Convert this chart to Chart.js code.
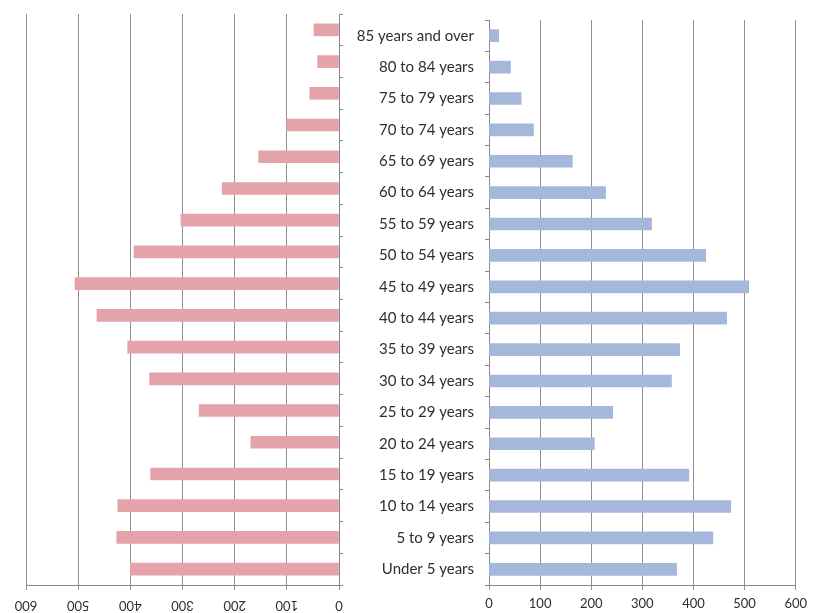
<!DOCTYPE html>
<html>
<head>
<meta charset="utf-8">
<script src="https://cdn.jsdelivr.net/npm/chart.js@4/dist/chart.umd.min.js"></script>
<style>
  html, body { margin: 0; padding: 0; background: #fff; }
  #wrap { position: relative; width: 813px; height: 613px; overflow: hidden; }
  #leftBox { position: absolute; left: 0; top: 0; width: 360px; height: 613px; }
  #rightBox { position: absolute; left: 345px; top: 0; width: 468px; height: 613px; }
</style>
</head>
<body>
<div id="wrap">
  <div id="leftBox"><canvas id="leftChart"></canvas></div>
  <div id="rightBox"><canvas id="rightChart"></canvas></div>
</div>
<script>
// Age groups, oldest at the top
const ageGroups = [
  '85 years and over', '80 to 84 years', '75 to 79 years', '70 to 74 years',
  '65 to 69 years', '60 to 64 years', '55 to 59 years', '50 to 54 years',
  '45 to 49 years', '40 to 44 years', '35 to 39 years', '30 to 34 years',
  '25 to 29 years', '20 to 24 years', '15 to 19 years', '10 to 14 years',
  '5 to 9 years', 'Under 5 years'
];
// Left half of the pyramid
const leftValues = [48, 41, 56, 100, 154, 224, 303, 393, 506, 464, 405, 363, 268, 169, 361, 424, 426, 400];
// Right half of the pyramid
const rightValues = [19, 42, 63, 87, 163, 228, 318, 424, 508, 465, 373, 357, 242, 206, 391, 473, 438, 367];
// Value axis ticks shared by both halves
const axisTicks = [0, 100, 200, 300, 400, 500, 600];

const FONT = 'Lato, "Open Sans", sans-serif';
const TEXT = '#2e2e2e';
const GRID = '#909090';
const AXIS = '#888888';

Chart.defaults.animation = false;
Chart.defaults.responsive = true;
Chart.defaults.maintainAspectRatio = false;

// Draws the left value-axis labels turned upside down
const flippedTicks = {
  id: 'flippedTicks',
  afterDraw(chart) {
    const sc = chart.scales.x;
    const ctx = chart.ctx;
    ctx.save();
    ctx.font = '13px ' + FONT;
    ctx.fillStyle = TEXT;
    ctx.textAlign = 'center';
    ctx.textBaseline = 'middle';
    const y = sc.top + 20;
    sc.ticks.forEach(t => {
      const x = sc.getPixelForValue(t.value);
      ctx.save();
      ctx.translate(x, y);
      ctx.rotate(Math.PI);
      ctx.fillText(String(t.value), 0, 0);
      ctx.restore();
    });
    ctx.restore();
  }
};

new Chart(document.getElementById('leftChart'), {
  type: 'bar',
  data: {
    labels: ageGroups,
    datasets: [{
      data: leftValues,
      backgroundColor: '#e3a3a8',
      barThickness: 12
    }]
  },
  options: {
    indexAxis: 'y',
    layout: { padding: { left: 26, right: 0, top: 14, bottom: 0 } },
    plugins: { legend: { display: false }, tooltip: { enabled: false } },
    scales: {
      x: {
        reverse: true,
        min: 0, max: 600,
        afterBuildTicks(scale) { scale.ticks = axisTicks.map(v => ({ value: v })); },
        afterFit(scale) { scale.height = 28; },
        ticks: { display: false },
        grid: { color: GRID, lineWidth: 1, tickLength: 5, drawTicks: true },
        border: { color: AXIS }
      },
      y: {
        position: 'right',
        afterFit(scale) { scale.width = 21; },
        ticks: { display: false },
        grid: { drawOnChartArea: false, drawTicks: true, tickLength: 4, color: AXIS, offset: true },
        border: { color: AXIS }
      }
    }
  },
  plugins: [flippedTicks]
});

new Chart(document.getElementById('rightChart'), {
  type: 'bar',
  data: {
    labels: ageGroups,
    datasets: [{
      data: rightValues,
      backgroundColor: '#a6b7dc',
      barThickness: 12
    }]
  },
  options: {
    indexAxis: 'y',
    layout: { padding: { left: 0, right: 12, top: 14, bottom: 0 } },
    plugins: { legend: { display: false }, tooltip: { enabled: false } },
    scales: {
      x: {
        min: 0, max: 600,
        afterBuildTicks(scale) { scale.ticks = axisTicks.map(v => ({ value: v })); },
        afterFit(scale) { scale.height = 28; },
        ticks: { color: TEXT, font: { family: FONT, size: 13 }, padding: 6, maxRotation: 0 },
        grid: { color: GRID, lineWidth: 1, tickLength: 5, drawTicks: true },
        border: { color: AXIS }
      },
      y: {
        position: 'left',
        afterFit(scale) { scale.width = 144; },
        ticks: { color: TEXT, font: { family: FONT, size: 15 }, padding: 11 },
        grid: { drawOnChartArea: false, drawTicks: true, tickLength: 4, color: AXIS, offset: true },
        border: { color: AXIS }
      }
    }
  }
});
</script>
</body>
</html>
